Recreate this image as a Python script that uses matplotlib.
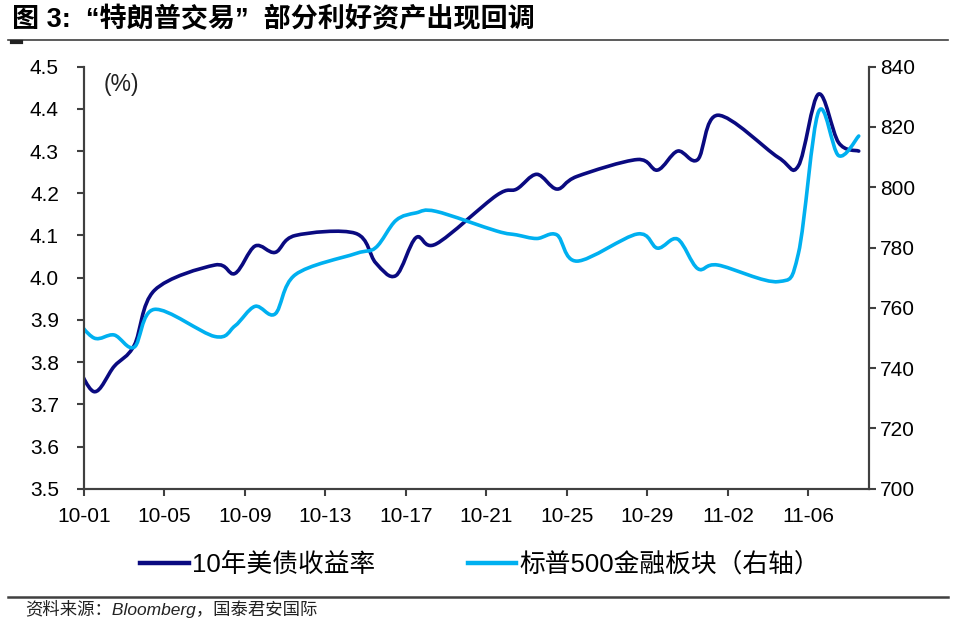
import numpy as np
import pandas as pd
import matplotlib
matplotlib.use("Agg")
import matplotlib.pyplot as plt
from matplotlib.path import Path
from matplotlib.patches import PathPatch
from matplotlib.lines import Line2D

plt.rcParams['font.family'] = ['Liberation Sans', 'Noto Sans CJK SC']

# trading days (US)
dates = ['2024-09-30', '2024-10-01', '2024-10-02', '2024-10-03', '2024-10-04',
         '2024-10-07', '2024-10-08', '2024-10-09', '2024-10-10', '2024-10-11',
         '2024-10-14', '2024-10-15', '2024-10-16', '2024-10-17', '2024-10-18',
         '2024-10-21', '2024-10-22', '2024-10-23', '2024-10-24', '2024-10-25',
         '2024-10-28', '2024-10-29', '2024-10-30', '2024-10-31', '2024-11-01',
         '2024-11-04', '2024-11-05', '2024-11-06', '2024-11-07', '2024-11-08']
ust10y = [3.81, 3.73, 3.79, 3.84, 3.97,
          4.03, 4.01, 4.075, 4.06, 4.10,
          4.105, 4.035, 4.005, 4.095, 4.08,
          4.195, 4.21, 4.245, 4.21, 4.24,
          4.28, 4.255, 4.30, 4.28, 4.385,
          4.285, 4.265, 4.435, 4.32, 4.30]
spx_fin = [757, 750, 751, 747, 759.5,
           750.5, 754, 760.5, 758, 771,
           778, 780, 789, 791.5, 792,
           785.5, 784.2, 783, 784.2, 775.5,
           784.5, 779.8, 782.8, 773, 774.2,
           768.7, 778, 825, 810.5, 817]
tick_labels = ['10-01', '10-05', '10-09', '10-13', '10-17',
               '10-21', '10-25', '10-29', '11-02', '11-06']

start = pd.Timestamp('2024-10-01')
# points sit in the middle of each day slot
xs = np.array([(pd.Timestamp(d) - start).days + 0.5 for d in dates])

dark = '#0A0A80'
light = '#00B0F0'
axis_col = '#404040'


def smooth_path(x, y):
    # Catmull-Rom style bezier, like Excel's smoothed line
    x = np.asarray(x, float)
    y = np.asarray(y, float)
    px = np.concatenate([[x[0]], x, [x[-1]]])
    py = np.concatenate([[y[0]], y, [y[-1]]])
    verts = [(x[0], y[0])]
    codes = [Path.MOVETO]
    for i in range(1, len(px) - 2):
        c1 = (px[i] + (px[i + 1] - px[i - 1]) / 6, py[i] + (py[i + 1] - py[i - 1]) / 6)
        c2 = (px[i + 1] - (px[i + 2] - px[i]) / 6, py[i + 1] - (py[i + 2] - py[i]) / 6)
        verts += [c1, c2, (px[i + 1], py[i + 1])]
        codes += [Path.CURVE4] * 3
    return Path(verts, codes)


fig = plt.figure(figsize=(9.6, 6.29), dpi=100)
ax = fig.add_axes([0.0875, 0.223, 0.8175, 0.671])
ax2 = ax.twinx()

ax.add_patch(PathPatch(smooth_path(xs, ust10y), fill=False, edgecolor=dark,
                       lw=2.6, capstyle='round', joinstyle='round', zorder=3))
ax2.add_patch(PathPatch(smooth_path(xs, spx_fin), fill=False, edgecolor=light,
                        lw=2.6, capstyle='round', joinstyle='round', zorder=2))

ax.set_xlim(0, 39)
ax.set_ylim(3.5, 4.5)
ax2.set_ylim(700, 840)
ax.set_yticks(np.arange(3.5, 4.51, 0.1))
ax.set_yticklabels([f'{v:.1f}' for v in np.arange(3.5, 4.51, 0.1)])
ax2.set_yticks(np.arange(700, 841, 20))
ax.set_xticks(np.arange(0, 37, 4))
ax.set_xticklabels(tick_labels)

for a in (ax, ax2):
    a.spines['top'].set_visible(False)
    for s in ('left', 'right', 'bottom'):
        a.spines[s].set_color(axis_col)
        a.spines[s].set_linewidth(1.5)
ax.tick_params(axis='y', direction='out', length=5, width=1.5, color=axis_col,
               labelsize=15, pad=13)
ax.tick_params(axis='x', direction='out', length=5, width=1.5, color=axis_col,
               labelsize=15, pad=8)
ax2.tick_params(axis='y', direction='out', length=5, width=1.5, color=axis_col,
                labelsize=15, pad=3)

ax.text(0.025, 0.985, '(%)', transform=ax.transAxes, fontsize=16.5,
        ha='left', va='top', color='#222222')

# title and rules
fig.text(0.012, 1 - 20 / 629, '图 3:  “特朗普交易”  部分利好资产出现回调',
         fontsize=19.5, fontweight='bold', ha='left', va='center')
fig.add_artist(Line2D([0.008, 0.988], [1 - 40 / 629] * 2, color=axis_col, lw=1.2))
fig.add_artist(Line2D([0.012, 0.022], [1 - 42 / 629] * 2, color='#222222', lw=3))
fig.add_artist(Line2D([0.008, 0.988], [1 - 597 / 629] * 2, color=axis_col, lw=1.8))

handles = [Line2D([], [], color=dark, lw=3.2), Line2D([], [], color=light, lw=3.2)]
fig.legend(handles, ['10年美债收益率', '标普500金融板块（右轴）'],
           loc='center', bbox_to_anchor=(0.5, 1 - 565 / 629), ncol=2,
           frameon=False, fontsize=18.5, handlelength=1.9, handletextpad=0.1,
           columnspacing=3.6)

fig.text(0.026, 1 - 609 / 629, '资料来源：Bloomberg，国泰君安国际',
         fontsize=12.5, fontstyle='italic', ha='left', va='center', color='#222222')

fig.savefig('out.png', dpi=100)
